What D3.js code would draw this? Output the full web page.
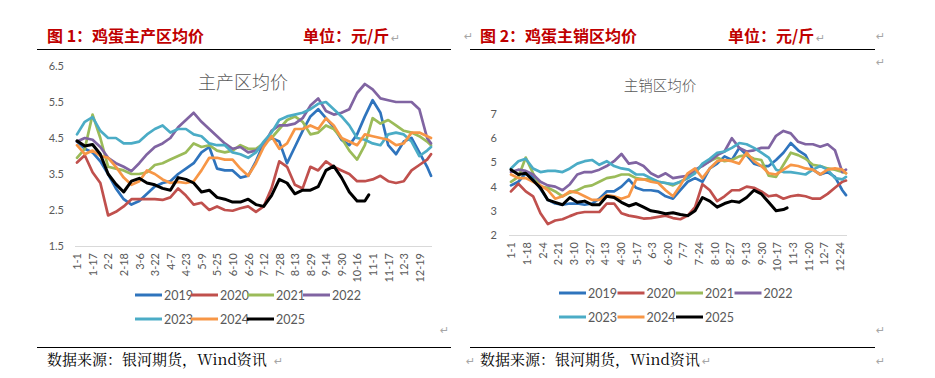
<!DOCTYPE html>
<html><head><meta charset="utf-8">
<script src="https://cdn.jsdelivr.net/npm/d3@7"></script>
<style>body{margin:0;background:#fff;}svg{display:block;}</style>
</head><body>
<svg id="c" width="935" height="378"></svg>
<script>
// ---------- data ----------
const years = ["2019","2020","2021","2022","2023","2024","2025"];
const colors = ["#2F74BD","#C0504D","#9BBB59","#8064A2","#4BACC6","#F79646","#000000"];

// sample days (day-of-year index, 0 = 1-1)
const sampleDays = [0,8,16,24,32,40,48,56,64,72,80,88,96,104,112,120,128,136,144,152,160,168,176,184,192,200,208,216,224,232,240,248,256,264,272,280,288,296,304,312,320,328,336,344,352,360,364];
const sampleDays2025 = [0,8,16,24,32,40,48,56,64,72,80,88,96,104,112,120,128,136,144,152,160,168,176,184,192,200,208,216,224,232,240,248,256,264,272,280,288,296,300];

// tick labels
const ticksLeft = ["1-1","1-17","2-2","2-18","3-6","3-22","4-7","4-23","5-9","5-25","6-10","6-26","7-12","7-28","8-13","8-29","9-14","9-30","10-16","11-1","11-17","12-3","12-19"];
const tickDaysLeft = [0,16,32,48,64,80,96,112,128,144,160,176,192,208,224,240,256,272,288,304,320,336,352];
const ticksRight = ["1-1","1-18","2-4","2-21","3-10","3-27","4-13","4-30","5-17","6-3","6-20","7-7","7-24","8-10","8-27","9-13","9-30","10-17","11-3","11-20","12-7","12-24"];
const tickDaysRight = [0,17,34,51,68,85,102,119,136,153,170,187,204,221,238,255,272,289,306,323,340,357];
const yTicksLeft = [1.5,2.5,3.5,4.5,5.5,6.5];
const yTicksRight = [2,3,4,5,6,7];

// 主产区均价 (left)
const prod2019 = [4.4,4.2,4.1,3.85,3.5,3.1,2.8,2.65,2.75,2.95,3.15,3.25,3.3,3.5,3.65,3.8,4.1,4.25,3.65,3.6,3.6,3.4,3.45,3.85,4.35,4.5,4.4,3.8,4.25,4.7,5.1,5.3,5.05,4.8,4.45,4.3,4.6,5.1,5.55,5.2,4.3,4.05,4.4,4.5,4.1,3.7,3.45];
const prod2020 = [3.82,4.02,3.55,3.25,2.35,2.45,2.6,2.8,2.8,2.8,2.8,2.78,2.85,3.1,2.9,2.65,2.7,2.5,2.6,2.5,2.48,2.55,2.6,2.45,2.6,3.1,3.85,3.7,3.2,3.1,3.7,3.6,3.85,3.7,3.6,3.5,3.3,3.3,3.35,3.45,3.3,3.25,3.3,3.6,3.75,3.9,4.05];
const prod2021 = [3.95,4.2,5.15,4.5,3.7,3.65,3.6,3.5,3.5,3.55,3.75,3.8,3.9,4.0,4.1,4.35,4.25,4.3,4.15,4.1,4.15,4.3,4.2,4.2,4.35,4.5,4.75,5.0,5.1,4.95,4.6,4.65,4.85,4.75,4.5,4.15,3.9,4.3,5.05,4.9,5.0,4.85,4.7,4.65,4.55,4.4,4.3];
const prod2022 = [4.4,4.5,4.45,4.25,3.95,3.8,3.7,3.58,3.8,4.05,4.25,4.35,4.5,4.8,5.0,5.2,4.95,4.75,4.55,4.35,4.2,4.25,4.1,4.15,4.3,4.7,4.85,4.85,4.9,5.05,5.4,5.6,5.25,5.15,5.2,5.3,5.75,6.0,5.85,5.6,5.55,5.5,5.5,5.5,5.3,4.5,4.35];
const prod2023 = [4.6,4.95,5.08,4.7,4.5,4.5,4.35,4.35,4.4,4.6,4.75,4.85,4.65,4.75,4.75,4.6,4.55,4.35,4.3,4.3,4.1,4.05,3.95,4.1,4.4,4.65,5.0,5.1,5.15,5.2,5.3,5.45,5.5,5.3,5.1,4.85,4.5,4.45,4.35,4.3,4.6,4.65,4.6,4.4,4.0,4.15,4.25];
const prod2024 = [4.3,4.05,4.15,4.0,3.95,3.7,3.4,3.2,3.3,3.6,3.5,3.35,3.25,3.28,3.25,3.3,3.6,3.95,3.95,3.9,3.9,3.65,3.45,3.8,4.25,4.55,4.2,4.35,4.75,4.75,4.85,4.75,5.05,4.85,4.5,4.4,4.3,4.6,4.55,4.5,4.45,4.3,4.35,4.65,4.65,4.55,4.5];
const prod2025 = [4.42,4.28,4.32,4.05,3.5,3.22,3.0,3.3,3.38,3.25,3.2,3.1,3.05,3.4,3.35,3.25,3.0,3.05,2.85,2.8,2.72,2.72,2.8,2.65,2.6,2.9,3.35,3.25,2.95,3.05,3.05,3.15,3.6,3.72,3.4,3.0,2.75,2.75,2.92];

// 主销区均价 (right)
const sale2019 = [4.05,4.2,4.55,4.4,3.9,3.45,3.3,3.25,3.3,3.3,3.25,3.3,3.5,3.8,3.8,4.0,4.3,3.95,3.85,3.85,3.8,3.6,3.5,3.85,4.2,4.35,4.2,4.75,4.95,5.25,5.1,5.6,5.3,4.95,4.85,4.85,5.1,5.4,5.8,5.5,5.3,4.7,4.5,4.6,4.4,3.85,3.65];
const sale2020 = [3.8,4.12,3.8,3.6,2.9,2.45,2.6,2.65,2.78,2.9,2.95,2.95,2.95,3.3,3.3,2.9,2.8,2.75,2.68,2.7,2.75,2.8,2.7,2.65,2.8,3.15,4.1,3.85,3.4,3.6,3.85,3.85,4.0,3.95,3.8,3.6,3.65,3.5,3.6,3.65,3.6,3.5,3.5,3.7,3.95,4.2,4.25];
const sale2021 = [4.2,4.4,5.2,4.55,4.0,3.95,3.8,3.6,3.75,3.85,4.0,4.05,4.2,4.35,4.4,4.5,4.5,4.35,4.3,4.3,4.2,4.15,4.05,4.2,4.35,4.6,4.9,5.05,5.2,5.05,5.1,5.25,5.3,5.15,5.1,4.45,4.4,4.9,5.4,5.3,5.15,4.9,4.85,4.75,4.7,4.6,4.55];
const sale2022 = [4.6,4.7,4.65,4.5,4.2,4.05,4.0,3.85,4.1,4.5,4.6,4.6,4.7,4.85,5.05,5.35,4.95,5.0,4.85,4.55,4.4,4.55,4.35,4.4,4.45,4.7,4.85,5.05,5.3,5.45,6.0,5.6,5.45,5.5,5.6,5.6,6.1,6.3,6.2,5.85,5.75,5.75,5.65,5.75,5.5,4.6,4.7];
const sale2023 = [4.75,5.05,5.15,4.75,4.6,4.65,4.65,4.6,4.75,4.95,5.05,5.1,4.9,5.05,4.85,4.75,4.7,4.5,4.5,4.35,4.2,4.15,4.1,4.2,4.35,4.55,4.95,5.15,5.4,5.45,5.6,5.8,5.75,5.6,5.4,5.2,4.7,4.6,4.6,4.55,4.5,4.7,4.85,4.7,4.35,4.3,4.4];
const sale2024 = [4.5,4.35,4.35,4.2,4.05,3.85,3.5,3.6,3.8,3.75,3.6,3.45,3.45,3.65,3.6,3.5,3.6,4.3,4.3,4.2,4.15,3.85,3.6,4.05,4.55,4.75,4.35,4.75,5.05,5.1,5.05,4.95,5.4,5.05,4.85,4.55,4.5,4.7,4.9,4.85,4.75,4.7,4.5,4.7,4.75,4.7,4.55];
const sale2025 = [4.7,4.5,4.55,4.25,3.95,3.45,3.35,3.25,3.55,3.35,3.4,3.25,3.25,3.6,3.55,3.35,3.2,3.3,3.15,3.0,2.95,2.88,2.92,2.85,2.8,3.0,3.55,3.4,3.15,3.3,3.4,3.35,3.55,3.85,3.7,3.35,3.0,3.05,3.12];

// ---------- drawing ----------
const svg = d3.select("#c");
const GRAY = "#595959";
const CJK = "'Noto Sans CJK SC','Noto Sans',sans-serif";
const LAT = "Lato,'Open Sans',sans-serif";

function header(x0, x1, fig, unitX, title) {
  svg.append("text").attr("x", fig.x).attr("y", 42).attr("fill", "#C00000")
    .attr("font-family", CJK).attr("font-size", 16).attr("font-weight", "bold").text(title);
  svg.append("text").attr("x", unitX).attr("y", 42).attr("fill", "#C00000")
    .attr("font-family", CJK).attr("font-size", 16).attr("font-weight", "bold").text("单位：元/斤");
  svg.append("line").attr("x1", x0).attr("x2", x1).attr("y1", 49.5).attr("y2", 49.5)
    .attr("stroke", "#000").attr("stroke-width", 1.2);
  svg.append("line").attr("x1", x0).attr("x2", x1).attr("y1", 347.5).attr("y2", 347.5)
    .attr("stroke", "#000").attr("stroke-width", 1);
  svg.append("text").attr("x", fig.x).attr("y", 365).attr("fill", "#000")
    .attr("font-family", "'Noto Serif CJK SC','Noto Sans CJK SC',serif").attr("font-size", 15).text("数据来源：银河期货，Wind资讯");
}

function chart(cfg) {
  const g = svg.append("g");
  const x = d3.scaleLinear().domain([0, 364]).range([cfg.left, cfg.right]);
  const y = d3.scaleLinear().domain(cfg.yDomain).range([cfg.bottom, cfg.top]);

  // chart title
  g.append("text").attr("x", cfg.titleX).attr("y", cfg.titleY).attr("text-anchor", "middle")
    .attr("fill", GRAY).attr("font-family", CJK).attr("font-size", cfg.titleSize).attr("font-weight", 300)
    .text(cfg.title);

  // baseline
  g.append("line").attr("x1", cfg.left - 2).attr("x2", cfg.right + 1)
    .attr("y1", y(cfg.yDomain[0]) + 0.5).attr("y2", y(cfg.yDomain[0]) + 0.5)
    .attr("stroke", "#D9D9D9").attr("stroke-width", 1);

  // y axis
  const ya = g.append("g").attr("transform", `translate(${cfg.left - 2},0)`)
    .call(d3.axisLeft(y).tickValues(cfg.yTicks).tickSize(0).tickPadding(cfg.yPad).tickFormat(d => cfg.yFmt(d)));
  ya.select(".domain").remove();
  ya.selectAll("text").attr("fill", GRAY).attr("font-family", LAT).attr("font-size", 11);

  // x axis
  const xa = g.append("g").attr("transform", `translate(0,${y(cfg.yDomain[0])})`)
    .call(d3.axisBottom(x).tickValues(cfg.tickDays).tickSize(0)
      .tickFormat((d, i) => cfg.tickLabels[i]));
  xa.select(".domain").remove();
  xa.selectAll("text").attr("fill", GRAY).attr("font-family", LAT).attr("font-size", 11)
    .attr("text-anchor", "end").attr("dy", "0.35em")
    .attr("transform", "translate(0,7) rotate(-90)").attr("x", 0).attr("y", 0);

  // lines
  const line = d3.line().x(d => x(d[0])).y(d => y(d[1])).curve(d3.curveLinear);
  cfg.series.forEach((s, i) => {
    const days = s.days;
    const pts = s.values.map((v, k) => [days[k], v]);
    g.append("path").attr("d", line(pts)).attr("fill", "none")
      .attr("stroke", colors[i]).attr("stroke-width", i === 6 ? 3 : 2.7)
      .attr("stroke-linejoin", "round").attr("stroke-linecap", "round");
  });

  // legend
  const lg = g.append("g");
  years.forEach((yr, i) => {
    const row = i < 4 ? 0 : 1, col = i < 4 ? i : i - 4;
    const lx = cfg.legX + col * cfg.legStep, ly = cfg.legY[row];
    lg.append("line").attr("x1", lx).attr("x2", lx + 27).attr("y1", ly).attr("y2", ly)
      .attr("stroke", colors[i]).attr("stroke-width", 3);
    lg.append("text").attr("x", lx + 29).attr("y", ly).attr("dy", "0.36em")
      .attr("fill", GRAY).attr("font-family", LAT).attr("font-size", 12.5).text(yr);
  });
}

header(37, 451, {x: 47}, 303, "图 1：鸡蛋主产区均价");
header(470, 875, {x: 480}, 728, "图 2：鸡蛋主销区均价");

chart({
  left: 77, right: 431, top: 66, bottom: 246, yDomain: [1.5, 6.5], yTicks: yTicksLeft,
  yFmt: d => d.toFixed(1), yPad: 11,
  tickDays: tickDaysLeft, tickLabels: ticksLeft,
  title: "主产区均价", titleX: 243, titleY: 89, titleSize: 18,
  legX: 135, legStep: 56, legY: [295, 319],
  series: [
    {days: sampleDays, values: prod2019}, {days: sampleDays, values: prod2020},
    {days: sampleDays, values: prod2021}, {days: sampleDays, values: prod2022},
    {days: sampleDays, values: prod2023}, {days: sampleDays, values: prod2024},
    {days: sampleDays2025, values: prod2025}
  ]
});

chart({
  left: 511, right: 846, top: 114, bottom: 235, yDomain: [2, 7], yTicks: yTicksRight,
  yFmt: d => d3.format("d")(d), yPad: 12,
  tickDays: tickDaysRight, tickLabels: ticksRight,
  title: "主销区均价", titleX: 660, titleY: 91, titleSize: 14.5,
  legX: 559, legStep: 58.5, legY: [293, 317],
  series: [
    {days: sampleDays, values: sale2019}, {days: sampleDays, values: sale2020},
    {days: sampleDays, values: sale2021}, {days: sampleDays, values: sale2022},
    {days: sampleDays, values: sale2023}, {days: sampleDays, values: sale2024},
    {days: sampleDays2025, values: sale2025}
  ]
});

// paragraph marks
const marks = [[391,42],[464,40],[816,42],[876,40],[876,66],[440,334],[876,334],[274,365],[466,365],[702,365],[876,365]];
svg.selectAll("text.pm").data(marks).enter().append("text").attr("class","pm")
  .attr("x", d => d[0]).attr("y", d => d[1]).attr("fill", "#A6A6A6")
  .attr("font-family", "'DejaVu Sans',sans-serif").attr("font-size", 11).text("↵");
</script>
</body></html>
